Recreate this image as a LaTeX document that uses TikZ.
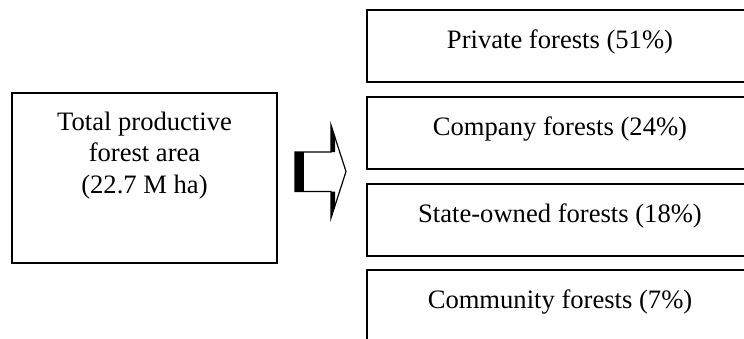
\documentclass[tikz,border=0pt]{standalone}
\usepackage{fontspec}
\setmainfont{Liberation Serif}
\usetikzlibrary{positioning}
\tikzset{
  box/.style={draw, line width=1.2pt, inner sep=0pt},
  srcbox/.style={box, minimum width=132.5pt, minimum height=85pt},
  catbox/.style={box, minimum width=193pt, minimum height=36pt,
    text height=19.25pt, text depth=16.75pt},
  srctext/.style={align=center, inner sep=0pt, anchor=north},
}
\begin{document}
\begin{tikzpicture}[x=0.5pt, y=-0.5pt, font=\fontsize{13.3}{15.75}\selectfont]
  \useasboundingbox (0,0) rectangle (744,338);
  \clip (0,0) rectangle (744,338);
  % total area
  \node[srcbox] (total) at (144.5,178) {};
  \node[srctext] (totaltext) at (144.5,111.6) {Total productive\\forest area\\(22.7 M ha)};
  % ownership
  \node[catbox] (private) at (560,46) {Private forests (51\%)};
  \node[catbox] (company) at (560,133) {Company forests (24\%)};
  \node[catbox] (state) at (560,220) {State-owned forests (18\%)};
  \node[catbox] (community) at (560,306) {Community forests (7\%)};
  % block arrow
  \draw[line width=0.6pt] (295,152) -- (331,152) -- (331,125) -- (346,171.5)
    -- (331,218) -- (331,191.5) -- (295,191.5) -- cycle;
  \fill (295,152) rectangle (304,191.5);
  \fill (331,125) -- (335,137) -- (335,152) -- (331,152) -- cycle;
  \fill (331,218) -- (335,206) -- (335,191.5) -- (331,191.5) -- cycle;
\end{tikzpicture}
\end{document}
